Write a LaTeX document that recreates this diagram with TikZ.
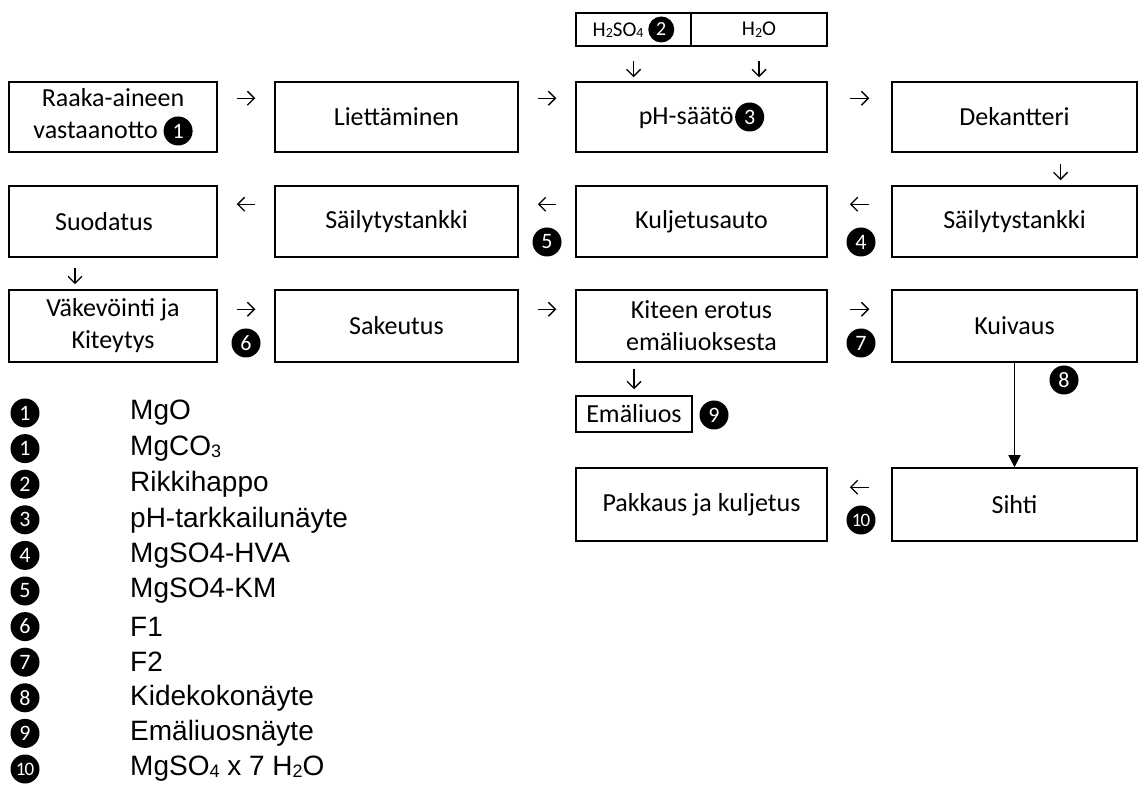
\documentclass[tikz,border=0pt]{standalone}
\usepackage{fontspec}
\setmainfont{Carlito}
\newfontfamily\legfont{Liberation Sans}
\usetikzlibrary{arrows.meta,calc}
\tikzset{
 box/.style={draw, line width=1.5pt, inner sep=0pt, align=center, font=\fontsize{26}{32}\selectfont},
 smallbox/.style={draw, line width=1.5pt, inner sep=0pt, align=center, font=\fontsize{21}{24}\selectfont, minimum height=33pt},
 numc/.style={circle, fill=black, text=white, inner sep=0pt, minimum size=29pt, font=\fontsize{22}{22}\selectfont},
 numcs/.style={numc, minimum size=26pt, font=\fontsize{20}{20}\selectfont},
 glyph/.style={line width=1.4pt, -{Straight Barb[length=7pt,width=14pt]}},
 flow/.style={line width=1.4pt, -{Triangle[length=12pt,width=12pt]}},
 legtext/.style={anchor=west, font=\legfont\fontsize{28}{28}\selectfont, inner sep=0pt},
 c1/.style={minimum width=208pt}, c2/.style={minimum width=243pt},
 c3/.style={minimum width=251pt}, c4/.style={minimum width=245pt}
}
\newcommand{\cn}[1]{\tikz[baseline={([yshift=-0.5pt]cc.base)}]\node[numc](cc){#1};}
\newcommand{\cns}[1]{\tikz[baseline={([yshift=-0.5pt]cc.base)}]\node[numcs](cc){#1};}
\newcommand{\sbs}[1]{\raisebox{-1.5pt}{\fontsize{14}{14}\selectfont #1}}
\newcommand{\lsbs}[1]{\raisebox{-2pt}{\fontsize{18}{18}\selectfont #1}}
\begin{document}
\begin{tikzpicture}[x=1pt,y=-1pt]
\useasboundingbox (0,0) rectangle (1144,791);
% row 1
\node[box,c1,minimum height=70pt] (b1) at (113,117) {Raaka-aineen\\vastaanotto \cn{1}};
\node[box,c2,minimum height=70pt] (b2) at (396.5,117) {Liettäminen};
\node[box,c3,minimum height=70pt] (b3) at (701.5,117) {pH-säätö\kern1.5pt\cn{3}};
\node[box,c4,minimum height=70pt] (b4) at (1014.5,117) {Dekantteri};
% top inputs
\node[smallbox,minimum width=115pt] (t1) at (633.5,29.5) {H\sbs{2}SO\sbs{4} \cns{2}};
\node[smallbox,minimum width=136pt] (t2) at (759,29.5) {H\sbs{2}O};
% row 2
\node[box,c1,minimum height=71pt] (r1) at (113,221.5) {Suodatus\kern18pt};
\node[box,c2,minimum height=71pt] (r2) at (396.5,221.5) {Säilytystankki};
\node[box,c3,minimum height=71pt] (r3) at (701.5,221.5) {Kuljetusauto};
\node[box,c4,minimum height=71pt] (r4) at (1014.5,221.5) {Säilytystankki};
% row 3
\node[box,c1,minimum height=72pt] (d1) at (113,326) {Väkevöinti ja\\Kiteytys};
\node[box,c2,minimum height=72pt] (d2) at (396.5,326) {Sakeutus};
\node[box,c3,minimum height=72pt] (d3) at (701.5,326) {Kiteen erotus\\emäliuoksesta};
\node[box,c4,minimum height=72pt] (d4) at (1014.5,326) {Kuivaus};
% emäliuos
\node[smallbox,minimum width=116pt,minimum height=36pt,font=\fontsize{26}{28}\selectfont] (em) at (634,414) {Emäliuos};
% row 4
\node[box,c3,minimum height=73pt] (e3) at (701.5,504.5) {Pakkaus ja kuljetus};
\node[box,c4,minimum height=73pt] (e4) at (1014.5,504.5) {Sihti};

% glyph arrows
\draw[glyph, shorten <=19pt, shorten >=19pt] ([yshift=-17pt]b1.north east) -- ([yshift=-17pt]b2.north west);
\draw[glyph, shorten <=19pt, shorten >=19pt] ([yshift=-17pt]b2.north east) -- ([yshift=-17pt]b3.north west);
\draw[glyph, shorten <=22pt, shorten >=22pt] ([yshift=-17pt]b3.north east) -- ([yshift=-17pt]b4.north west);
\draw[glyph, shorten <=14pt, shorten >=4pt] (t1.south) -- (t1.south |- b3.north);
\draw[glyph, shorten <=14pt, shorten >=4pt] (t2.south) -- (t2.south |- b3.north);
\draw[glyph, shorten <=11pt, shorten >=5pt] ([xshift=46pt]b4.south) -- ([xshift=46pt]r4.north);
\draw[glyph, shorten <=22pt, shorten >=22pt] ([yshift=-19pt]r4.north west) -- ([yshift=-19pt]r3.north east);
\draw[glyph, shorten <=19pt, shorten >=19pt] ([yshift=-19pt]r3.north west) -- ([yshift=-19pt]r2.north east);
\draw[glyph, shorten <=19pt, shorten >=19pt] ([yshift=-19pt]r2.north west) -- ([yshift=-19pt]r1.north east);
\draw[glyph, shorten <=10pt, shorten >=5pt] ([xshift=-38pt]r1.south) -- ([xshift=-38pt]d1.north);
\draw[glyph, shorten <=19pt, shorten >=19pt] ([yshift=-20pt]d1.north east) -- ([yshift=-20pt]d2.north west);
\draw[glyph, shorten <=19pt, shorten >=19pt] ([yshift=-20pt]d2.north east) -- ([yshift=-20pt]d3.north west);
\draw[glyph, shorten <=22pt, shorten >=22pt] ([yshift=-20pt]d3.north east) -- ([yshift=-20pt]d4.north west);
\draw[glyph, shorten <=6pt, shorten >=6pt] (d3.south -| em.north) -- (em.north);
\draw[glyph, shorten <=22pt, shorten >=22pt] ([yshift=-20pt]e4.north west) -- ([yshift=-20pt]e3.north east);
\draw[flow] (d4.south) -- (e4.north);

% side markers
\node[numc] (m5) at (547,242) {5};
\node[numc] (m4) at (861,242) {4};
\node[numc] (m6) at (246,343) {6};
\node[numc] (m7) at (861,343) {7};
\node[numc] (m8) at (1064,380) {8};
\node[numc] (m9) at (714,415) {9};
\node[numc,font=\fontsize{19}{19}\selectfont] (m10) at (861,520) {1\kern-0.8pt0};

% legend
\foreach \i/\d/\t in {0/1/MgO, 1/1/MgC{O}\lsbs{3}, 2/2/Rikkihappo, 3/3/pH-tarkkailunäyte, 4/4/MgSO4-HVA, 5/5/MgSO4-KM, 6/6/F1, 7/7/F2, 8/8/Kidekokonäyte, 9/9/Emäliuosnäyte}{
  \node[numc] (ln\i) at (25,{413+35.6*\i}) {\d};
  \node[legtext] (lt\i) at (130,{413+35.6*\i}) {\t};
}
\node[numc,font=\fontsize{19}{19}\selectfont] (ln10) at (25,769) {1\kern-0.8pt0};
\node[legtext] (lt10) at (130,769) {MgSO\lsbs{4} x 7 H\lsbs{2}O};
\end{tikzpicture}
\end{document}
